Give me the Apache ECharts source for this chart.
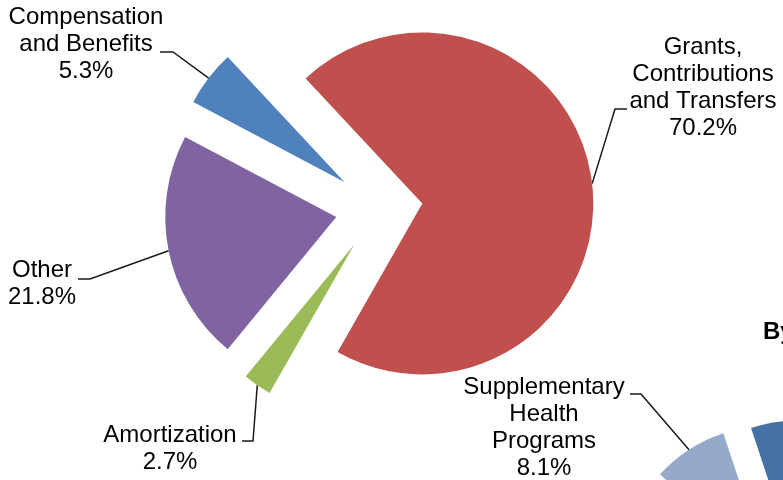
<!DOCTYPE html>
<html>
<head>
<meta charset="utf-8">
<script src="https://cdn.jsdelivr.net/npm/echarts@6/dist/echarts.min.js"></script>
<style>
  html, body { margin: 0; padding: 0; background: #fff; }
  #chart { width: 783px; height: 480px; }
</style>
</head>
<body>
<div id="chart"></div>
<script>
// expenses by type (main pie), clockwise from the blue slice
const expenseNames = ['Compensation\nand Benefits', 'Grants,\nContributions\nand Transfers', 'Amortization', 'Other'];
const expenseShares = [5.3, 70.2, 2.7, 21.8];
const expenseColors = ['#4F81BD', '#C0504D', '#9BBB59', '#8064A2'];

// second pie, only its top-left corner is inside the frame
const programNames = ['Health Programs', 'Other Programs', 'Supplementary\nHealth\nPrograms'];
const programShares = [16.8, 75.1, 8.1];
const programColors = ['#4671A5', '#B8C6DD', '#95A9CB'];

// where the labels sit and how their leader lines bend (layout only)
const expenseLabelPos = [
  { x: 86, y: 44, bend: [173, 52], end: [160, 52] },
  { x: 703, y: 87.5, bend: [615, 109], end: [627, 109] },
  { x: 170, y: 449, bend: [253, 441], end: [242, 441] },
  { x: 42, y: 284, bend: [90, 279], end: [78, 279] }
];
const programLabelPos = [null, null, { x: 544, y: 428, bend: [641, 394], end: [630, 394] }];

const labelFont = {
  fontFamily: 'Liberation Sans, Arial, sans-serif',
  fontSize: 24,
  lineHeight: 27,
  color: '#000'
};

// an exploded pie: one pie series per slice, each pushed out along its own bisector
function explodedPie(names, values, colors, labelPos, opts) {
  const total = values.reduce((a, b) => a + b, 0);
  let before = 0;
  return values.map((v, i) => {
    const mid = (opts.startAngle - 360 * (before + v / 2) / total) * Math.PI / 180;
    before += v;
    const dx = opts.offset * Math.cos(mid);
    const dy = -opts.offset * Math.sin(mid);
    const pos = labelPos[i];
    return {
      type: 'pie',
      center: [opts.center[0] + dx, opts.center[1] + dy],
      radius: opts.radius,
      startAngle: opts.startAngle,
      clockwise: true,
      avoidLabelOverlap: false,
      silent: true,
      percentPrecision: 1,
      itemStyle: { borderWidth: 0 },
      label: Object.assign({ show: false, formatter: '{b}\n{d}%', align: 'center' }, labelFont),
      labelLine: { show: false, lineStyle: { color: '#1a1a1a', width: 1.5 } },
      labelLayout: function (params) {
        if (!pos || params.dataIndex !== i) return {};
        const pts = params.labelLinePoints;
        return {
          x: pos.x,
          y: pos.y,
          align: 'center',
          verticalAlign: 'middle',
          labelLinePoints: pts ? [pts[0], pos.bend, pos.end] : undefined
        };
      },
      data: names.map((name, j) => ({
        name: name,
        value: values[j],
        itemStyle: j === i ? { color: colors[j] } : { color: 'rgba(0,0,0,0)' },
        label: { show: j === i && !!pos },
        labelLine: { show: j === i && !!pos }
      }))
    };
  });
}

const chart = echarts.init(document.getElementById('chart'), null, { renderer: 'canvas' });

chart.setOption({
  animation: false,
  backgroundColor: '#fff',
  title: {
    text: 'By Program',
    left: 758,
    top: 315,
    textStyle: { fontFamily: labelFont.fontFamily, fontSize: 24, fontWeight: 'bold', color: '#000' }
  },
  series: explodedPie(expenseNames, expenseShares, expenseColors, expenseLabelPos, {
    center: [379, 208.5], radius: 171, startAngle: 152.1, offset: 43.6
  }).concat(explodedPie(programNames, programShares, programColors, programLabelPos, {
    center: [790.8, 606.6], radius: 150, startAngle: 108.4, offset: 37
  }))
});
</script>
</body>
</html>
